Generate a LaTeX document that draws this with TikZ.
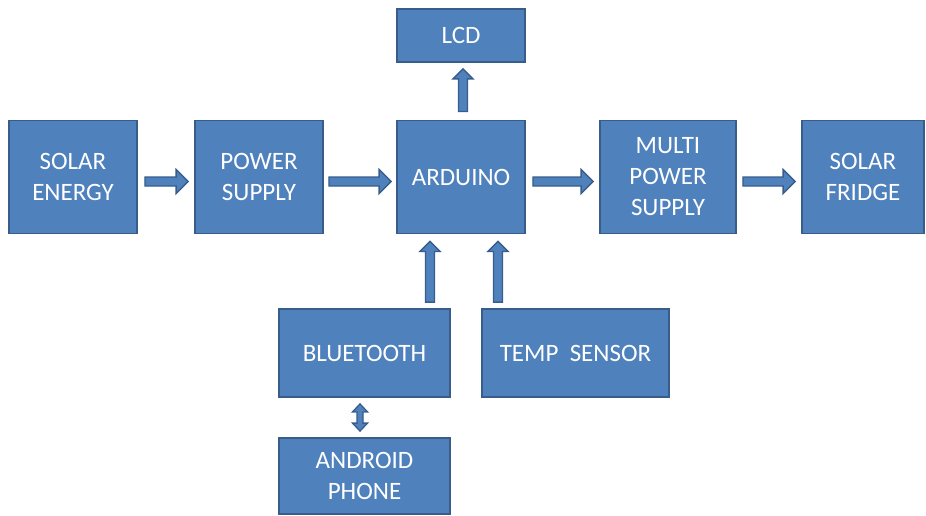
\documentclass[tikz,border=0pt]{standalone}
\usepackage{fontspec}
\setmainfont{Carlito}
\usetikzlibrary{calc}
\definecolor{boxfill}{HTML}{4F81BD}
\definecolor{boxline}{HTML}{385D8A}
\tikzset{
  blk/.style={draw=boxline, fill=boxfill, line width=1.8pt, text=white,
    align=center, inner sep=0pt, font=\fontsize{25}{31}\selectfont},
  barrowstyle/.style={draw=boxline, fill=boxfill, line width=1.3pt, line join=miter}
}
% #1 start, #2 tip, #3 shaft half width, #4 head half width, #5 head length
\newcommand\blockarrow[5]{%
  \coordinate (ba-h) at ($(#2)!#5!(#1)$);
  \draw[barrowstyle] ($(#1)!#3!90:(#2)$) -- ($(ba-h)!#3!90:(#2)$) -- ($(ba-h)!#4!90:(#2)$)
    -- (#2) -- ($(ba-h)!#4!-90:(#2)$) -- ($(ba-h)!#3!-90:(#2)$) -- ($(#1)!#3!-90:(#2)$) -- cycle;}
\newcommand\dblockarrow[5]{%
  \coordinate (da-h1) at ($(#1)!#5!(#2)$);
  \coordinate (da-h2) at ($(#2)!#5!(#1)$);
  \draw[barrowstyle] (#1) -- ($(da-h1)!#4!90:(#2)$) -- ($(da-h1)!#3!90:(#2)$) -- ($(da-h2)!#3!90:(#2)$)
    -- ($(da-h2)!#4!90:(#2)$) -- (#2) -- ($(da-h2)!#4!-90:(#2)$) -- ($(da-h2)!#3!-90:(#2)$)
    -- ($(da-h1)!#3!-90:(#2)$) -- ($(da-h1)!#4!-90:(#2)$) -- cycle;}
\begin{document}
\begin{tikzpicture}[x=1pt, y=-1pt]
\useasboundingbox (0,0) rectangle (926,516);
% nodes
\node[blk, minimum width=128pt, minimum height=113pt] (se) at (73,177) {SOLAR\\ENERGY};
\node[blk, minimum width=128pt, minimum height=113pt] (ps) at (259,177) {POWER\\SUPPLY};
\node[blk, minimum width=128pt, minimum height=113pt] (ard) at (461,177) {ARDUINO};
\node[blk, minimum width=128pt, minimum height=53pt] (lcd) at (461,35.5) {LCD};
\node[blk, minimum width=136pt, minimum height=113pt] (mps) at (668,177) {MULTI\\POWER\\SUPPLY};
\node[blk, minimum width=122pt, minimum height=113pt] (sf) at (863,177) {SOLAR\\FRIDGE};
\node[blk, minimum width=171pt, minimum height=88pt] (bt) at (364.5,353) {BLUETOOTH};
\node[blk, minimum width=187pt, minimum height=88pt] (temp) at (575.5,353) {TEMP\ \ SENSOR};
\node[blk, minimum width=171pt, minimum height=76pt] (andr) at (364.5,476) {ANDROID\\PHONE};
% connector end points
\coordinate (a1s) at ($(se.east)+(7,4.5)$);   \coordinate (a1e) at ($(ps.west)+(-6,4.5)$);
\coordinate (a2s) at ($(ps.east)+(5,4.5)$);   \coordinate (a2e) at ($(ard.west)+(-5,4.5)$);
\coordinate (a3s) at ($(ard.east)+(7,4.5)$);  \coordinate (a3e) at ($(mps.west)+(-6,4.5)$);
\coordinate (a4s) at ($(mps.east)+(6,4.5)$);  \coordinate (a4e) at ($(sf.west)+(-6,4.5)$);
\coordinate (a5s) at ($(ard.north)+(2,-8)$);  \coordinate (a5e) at ($(lcd.south)+(2,6)$);
\coordinate (a6s) at ($(bt.north)+(65.5,-6)$); \coordinate (a6e) at ($(ard.south)+(-31,7)$);
\coordinate (a7s) at ($(temp.north)+(-77.5,-6)$); \coordinate (a7e) at ($(ard.south)+(37,7)$);
\coordinate (a8s) at ($(bt.south)+(-4.5,6)$); \coordinate (a8e) at ($(andr.north)+(-4.5,-6)$);
% connectors
\blockarrow{a1s}{a1e}{4.5pt}{12pt}{12pt}
\blockarrow{a2s}{a2e}{4.5pt}{12pt}{12pt}
\blockarrow{a3s}{a3e}{4.5pt}{12pt}{12pt}
\blockarrow{a4s}{a4e}{4.5pt}{12pt}{12pt}
\blockarrow{a5s}{a5e}{4.5pt}{10pt}{10pt}
\blockarrow{a6s}{a6e}{4.5pt}{10pt}{10pt}
\blockarrow{a7s}{a7e}{4.5pt}{10pt}{10pt}
\dblockarrow{a8s}{a8e}{3pt}{7.5pt}{8pt}
\end{tikzpicture}
\end{document}
